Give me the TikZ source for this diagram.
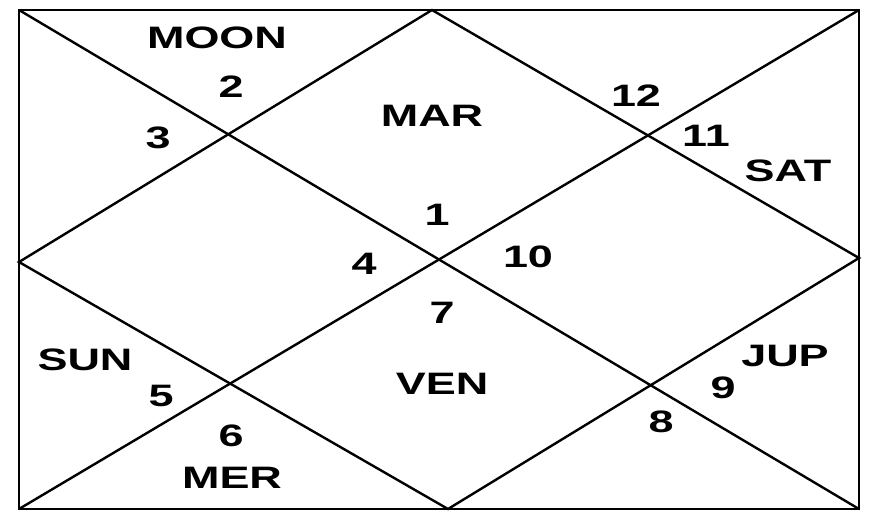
\documentclass[tikz,border=0pt]{standalone}
\usepackage{graphicx}
\usepackage{fontspec}
\setmainfont{Liberation Sans}
\newcommand{\wide}[1]{\scalebox{1.45}[1]{#1}}
\tikzset{
  chart/.style={line width=2.4pt,line join=miter},
  lbl/.style={font=\fontsize{31}{34}\selectfont\bfseries,inner sep=0pt}
}

\begin{document}
\begin{tikzpicture}[x=1pt,y=-1pt]
  \useasboundingbox (0,0) rectangle (871,512);

  % frame corners and side midpoints
  \coordinate (tl) at (19,10);
  \coordinate (tr) at (859,10);
  \coordinate (br) at (859,509);
  \coordinate (bl) at (19,509);
  \coordinate (tm) at (432,10);
  \coordinate (rm) at (859,258);
  \coordinate (bm) at (448,509);
  \coordinate (lm) at (19,262);

  \draw[chart] (tl) -- (tr) -- (br) -- (bl) -- cycle;
  \draw[chart] (tl) -- (br);
  \draw[chart] (tr) -- (bl);
  \draw[chart] (tm) -- (rm) -- (bm) -- (lm) -- cycle;

  % house numbers
  \node[lbl] (h1)  at (437,215) {\wide{1}};
  \node[lbl] (h2)  at (231,87)  {\wide{2}};
  \node[lbl] (h3)  at (158,138) {\wide{3}};
  \node[lbl] (h4)  at (364,264) {\wide{4}};
  \node[lbl] (h5)  at (161,396) {\wide{5}};
  \node[lbl] (h6)  at (231,436) {\wide{6}};
  \node[lbl] (h7)  at (442,313) {\wide{7}};
  \node[lbl] (h8)  at (661,422) {\wide{8}};
  \node[lbl] (h9)  at (723,388) {\wide{9}};
  \node[lbl] (h10) at (528,257) {\wide{10}};
  \node[lbl] (h11) at (706,136) {\wide{11}};
  \node[lbl] (h12) at (636,96)  {\wide{12}};

  % planets
  \node[lbl] (moon) at (217,38)  {\wide{MOON}};
  \node[lbl] (mar)  at (432,116) {\wide{MAR}};
  \node[lbl] (sat)  at (788,171) {\wide{SAT}};
  \node[lbl] (sun)  at (85,360)  {\wide{SUN}};
  \node[lbl] (ven)  at (442,384) {\wide{VEN}};
  \node[lbl] (jup)  at (785,356) {\wide{JUP}};
  \node[lbl] (mer)  at (232,478) {\wide{MER}};
\end{tikzpicture}
\end{document}
